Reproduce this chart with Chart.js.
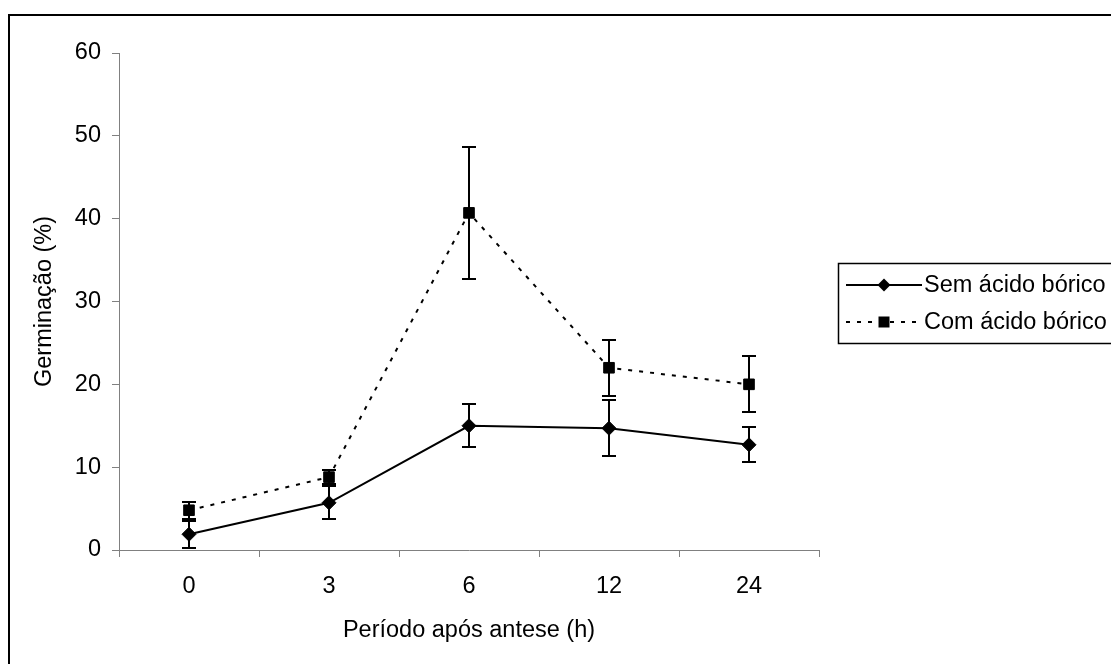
<!DOCTYPE html>
<html><head><meta charset="utf-8">
<script src="https://cdn.jsdelivr.net/npm/chart.js@4/dist/chart.umd.min.js"></script>
<style>html,body{margin:0;padding:0;background:#fff;}canvas{display:block;}</style>
</head><body>
<canvas id="c" width="1111" height="664"></canvas>
<script>
const categories = ['0', '3', '6', '12', '24'];
const semValues = [1.9, 5.7, 15.0, 14.7, 12.7];
const semErrors = [1.6, 2.0, 2.6, 3.4, 2.1];
const comValues = [4.8, 8.8, 40.7, 22.0, 20.0];
const comErrors = [1.0, 0.8, 8.0, 3.4, 3.4];
const yTicks = [0, 10, 20, 30, 40, 50, 60];
const seriesNames = ['Sem ácido bórico', 'Com ácido bórico'];
const xTitle = 'Período após antese (h)';
const yTitle = 'Germinação (%)';

const FAMILY = '"Liberation Sans", Arial, sans-serif';
const FSIZE = 23.5;
const FONT = FSIZE + 'px ' + FAMILY;
const AXIS = '#808080';

const errorBars = {
  id: 'errorBars',
  beforeDatasetsDraw(chart) {
    const ctx = chart.ctx, y = chart.scales.y;
    ctx.save();
    ctx.strokeStyle = '#000';
    ctx.lineWidth = 2;
    chart.data.datasets.forEach((ds, i) => {
      const meta = chart.getDatasetMeta(i);
      meta.data.forEach((pt, j) => {
        const v = ds.data[j], e = ds.errors[j];
        const yt = Math.round(y.getPixelForValue(v + e)), yb = Math.round(y.getPixelForValue(v - e));
        const x = Math.round(pt.x);
        ctx.beginPath();
        ctx.moveTo(x, yt); ctx.lineTo(x, yb);
        ctx.moveTo(x - 7, yt); ctx.lineTo(x + 7, yt);
        ctx.moveTo(x - 7, yb); ctx.lineTo(x + 7, yb);
        ctx.stroke();
      });
    });
    ctx.restore();
  }
};

const decor = {
  id: 'decor',
  afterDraw(chart) {
    const ctx = chart.ctx, a = chart.chartArea;
    ctx.save();
    // outer frame (extends beyond the picture on right/bottom)
    ctx.strokeStyle = '#000';
    ctx.lineWidth = 2;
    ctx.beginPath();
    ctx.moveTo(9, 700); ctx.lineTo(9, 15); ctx.lineTo(1200, 15);
    ctx.stroke();
    // axis titles
    ctx.fillStyle = '#000';
    ctx.font = FONT;
    ctx.textAlign = 'center';
    ctx.textBaseline = 'middle';
    ctx.fillText(xTitle, (a.left + a.right) / 2, 631);
    ctx.save();
    ctx.translate(45, (a.top + a.bottom) / 2);
    ctx.rotate(-Math.PI / 2);
    ctx.fillText(yTitle, 0, 0);
    ctx.restore();
    // legend
    ctx.strokeStyle = '#000';
    ctx.lineWidth = 1.5;
    ctx.strokeRect(838.5, 263.5, 400, 80);
    const rows = [285, 322];
    chart.data.datasets.forEach((ds, i) => {
      const yy = rows[i];
      ctx.save();
      ctx.strokeStyle = '#000';
      ctx.lineWidth = 2;
      ctx.setLineDash(ds.borderDash || []);
      ctx.beginPath();
      ctx.moveTo(846, yy); ctx.lineTo(922, yy);
      ctx.stroke();
      ctx.restore();
      ctx.fillStyle = '#000';
      ctx.beginPath();
      if (ds.pointStyle === 'rectRot') {
        ctx.moveTo(884 - 6.5, yy); ctx.lineTo(884, yy - 6.5); ctx.lineTo(884 + 6.5, yy); ctx.lineTo(884, yy + 6.5);
        ctx.closePath();
      } else {
        ctx.rect(884 - 5.5, yy - 5.5, 11, 11);
      }
      ctx.fill();
      ctx.textAlign = 'left';
      ctx.fillText(ds.label, 924, yy + 1);
    });
    ctx.restore();
  }
};

new Chart(document.getElementById('c'), {
  type: 'line',
  data: {
    labels: categories,
    datasets: [
      {
        label: seriesNames[0], data: semValues, errors: semErrors,
        borderColor: '#000', backgroundColor: '#000', borderWidth: 2,
        pointStyle: 'rectRot', pointRadius: 7, pointBorderWidth: 1,
        pointBackgroundColor: '#000', pointBorderColor: '#000', tension: 0
      },
      {
        label: seriesNames[1], data: comValues, errors: comErrors,
        borderColor: '#000', backgroundColor: '#000', borderWidth: 2, borderDash: [4, 7],
        pointStyle: 'rect', pointRadius: 7.5, pointBorderWidth: 1,
        pointBackgroundColor: '#000', pointBorderColor: '#000', tension: 0
      }
    ]
  },
  options: {
    responsive: false,
    animation: false,
    devicePixelRatio: 1,
    layout: { padding: { left: 0, top: 53, right: 292, bottom: 0 } },
    plugins: { legend: { display: false }, tooltip: { enabled: false } },
    scales: {
      x: {
        offset: true,
        afterFit(s) { s.height = 114; },
        grid: { offset: true, drawOnChartArea: false, drawTicks: true, tickLength: 7, color: AXIS, lineWidth: 1 },
        border: { display: true, color: AXIS, width: 1 },
        ticks: { color: '#000', font: { family: FAMILY, size: FSIZE }, padding: 15, maxRotation: 0 }
      },
      y: {
        min: 0, max: 60,
        afterFit(s) { s.width = 119; },
        afterBuildTicks(s) { s.ticks = yTicks.map(v => ({ value: v })); },
        grid: { drawOnChartArea: false, drawTicks: true, tickLength: 7, color: AXIS, lineWidth: 1 },
        border: { display: true, color: AXIS, width: 1 },
        ticks: { color: '#000', font: { family: FAMILY, size: FSIZE }, padding: 11 }
      }
    }
  },
  plugins: [errorBars, decor]
});
</script>
</body></html>
